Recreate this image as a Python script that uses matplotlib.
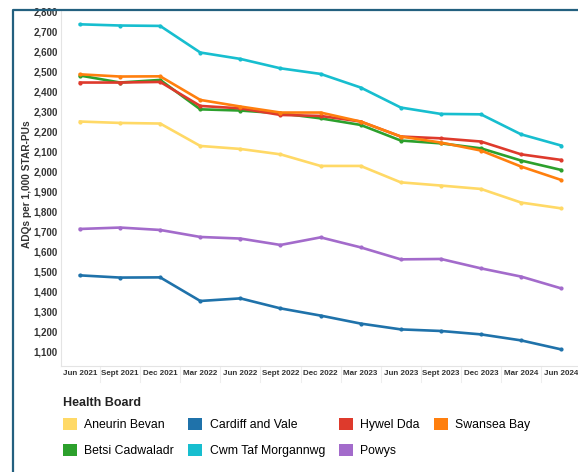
import numpy as np
import matplotlib
matplotlib.use("Agg")
import matplotlib.pyplot as plt
from matplotlib.patches import Patch
from matplotlib.lines import Line2D

periods = ["Jun 2021", "Sept 2021", "Dec 2021", "Mar 2022", "Jun 2022", "Sept 2022",
           "Dec 2022", "Mar 2023", "Jun 2023", "Sept 2023", "Dec 2023", "Mar 2024", "Jun 2024"]

aneurin_bevan = [2252, 2245, 2242, 2130, 2115, 2088, 2030, 2030, 1948, 1932, 1915, 1847, 1818]
betsi_cadwaladr = [2482, 2447, 2460, 2313, 2307, 2293, 2268, 2235, 2157, 2143, 2118, 2057, 2010]
cardiff_vale = [1483, 1472, 1473, 1355, 1368, 1318, 1282, 1242, 1213, 1205, 1188, 1158, 1113]
cwm_taf = [2738, 2732, 2730, 2597, 2565, 2518, 2490, 2422, 2322, 2290, 2288, 2188, 2132]
hywel_dda = [2447, 2447, 2450, 2330, 2318, 2285, 2280, 2252, 2177, 2168, 2152, 2088, 2060]
powys = [1715, 1722, 1710, 1675, 1667, 1635, 1673, 1623, 1563, 1565, 1518, 1477, 1418]
swansea_bay = [2488, 2477, 2478, 2360, 2327, 2297, 2297, 2252, 2177, 2147, 2107, 2027, 1960]

boards = ["Aneurin Bevan", "Betsi Cadwaladr", "Cardiff and Vale", "Cwm Taf Morgannwg",
          "Hywel Dda", "Powys", "Swansea Bay"]
series = [aneurin_bevan, betsi_cadwaladr, cardiff_vale, cwm_taf, hywel_dda, powys, swansea_bay]
colors = ["#FFD966", "#2CA02C", "#1F72AA", "#17BECF", "#DE3A2C", "#A36BCB", "#FF7F0E"]

font = ["Liberation Sans", "DejaVu Sans"]

fig = plt.figure(figsize=(5.78, 4.72), dpi=100)
ax = fig.add_axes([0.1055, 0.2246, 0.8945, 0.7544])

x = np.arange(len(periods))
for name, vals, c in zip(boards, series, colors):
    ax.plot(x, vals, color=c, lw=1.9, marker="o", ms=2.0, solid_joinstyle="round")

ax.set_xlim(-0.474, 12.42)
ax.set_ylim(1030, 2810)
ax.set_yticks(np.arange(1100, 2801, 100))
ax.set_yticklabels([f"{v:,}" for v in range(1100, 2801, 100)],
                   fontsize=7, fontweight="bold", family=font, color="#333333")
ax.set_xticks(x)
ax.set_xticklabels(periods, fontsize=5.8, fontweight="bold", family=font, color="#333333")
ax.tick_params(axis="x", length=0, pad=3)
ax.tick_params(axis="y", length=0, pad=2.5)
ax.set_ylabel("ADQs per 1,000 STAR-PUs", fontsize=7.3, fontweight="bold",
              family=font, color="#333333")
ax.yaxis.set_label_coords(-0.057, 0.51)

for s in ["top", "right"]:
    ax.spines[s].set_visible(False)
for s in ["left", "bottom"]:
    ax.spines[s].set_color("#e4e4e4")
    ax.spines[s].set_linewidth(0.8)

# faint separators between the period labels
for xi in x[:-1]:
    ax.plot([xi + 0.5, xi + 0.5], [0, -0.045], transform=ax.get_xaxis_transform(),
            color="#eeeeee", lw=0.8, clip_on=False)

# legend title as separate text so its gap is independent of row spacing
fig.text(63 / 578, 1 - 403 / 472, "Health Board", family=font, fontsize=9,
         fontweight="bold", ha="left", va="center", color="#222222")

handles = [Patch(facecolor=c, edgecolor="none") for c in colors]
leg = fig.legend(handles, boards, ncol=4, loc="upper left",
                 bbox_to_anchor=(63 / 578, 1 - 418 / 472), frameon=False,
                 prop={"family": font, "size": 8.8},
                 handlelength=1.15, handleheight=1.15,
                 handletextpad=0.6, columnspacing=1.15, labelspacing=1.05, borderpad=0,
                 borderaxespad=0)

# frame lines on left and top
fig.add_artist(Line2D([13 / 578, 13 / 578, 1.0], [0.0, 1 - 10 / 472, 1 - 10 / 472],
                      transform=fig.transFigure, color="#23607F", lw=1.6))

fig.savefig("out.png", dpi=100)
